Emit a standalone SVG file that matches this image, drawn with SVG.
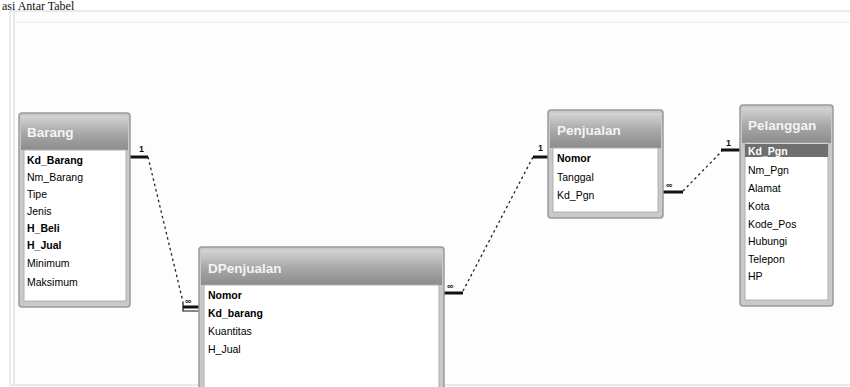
<svg xmlns="http://www.w3.org/2000/svg" width="850" height="387" viewBox="0 0 850 387">
  <defs>
    <linearGradient id="titleGrad" x1="0" y1="0" x2="0" y2="1">
      <stop offset="0" stop-color="#d4d4d4"/>
      <stop offset="0.5" stop-color="#a8a8a8"/>
      <stop offset="1" stop-color="#8c8c8c"/>
    </linearGradient>
    <style>
      .frame { fill: #c9c9c9; stroke: #9a9a9a; stroke-width: 1.5; }
      .title { fill: url(#titleGrad); }
      .body { fill: #ffffff; stroke: #b0b0b0; stroke-width: 1; }
      .ttl { font-family: "Liberation Sans", Arial, sans-serif; font-size: 13.5px; font-weight: bold; fill: #f4f4f4; }
      .fld { font-family: "Liberation Sans", Arial, sans-serif; font-size: 10.5px; fill: #000; }
      .key { font-weight: bold; }
      .sel { fill: #6f6f6f; }
      .selt { fill: #ffffff; }
      .link { fill: none; stroke: #222; stroke-width: 1.3; stroke-dasharray: 2.5 3; }
      .bar { fill: none; stroke: #111; stroke-width: 3; }
      .card { font-family: "Liberation Sans", Arial, sans-serif; font-size: 9px; font-weight: bold; fill: #111; }
    </style>
  </defs>

  <!-- page background and workspace panel -->
  <rect x="0" y="0" width="850" height="387" fill="#ffffff"/>
  <rect x="10" y="11" width="845" height="374" fill="#fdfdfd" stroke="#e4e4e4" stroke-width="1.5"/>
  <line x1="14" y1="22" x2="850" y2="22" stroke="#eeeeee" stroke-width="1.5"/>
  <line x1="14" y1="11" x2="14" y2="385" stroke="#e0e0e0" stroke-width="1.5"/>
  <text x="2" y="10" font-family="Liberation Serif, 'Times New Roman', serif" font-size="12" fill="#111">asi Antar Tabel</text>

  <!-- relationship lines -->
  <g id="connectors">
    <!-- Barang.Kd_Barang 1 : ∞ DPenjualan.Kd_barang -->
    <line class="bar" x1="130" y1="157" x2="148" y2="157"/>
    <text class="card" x="139" y="152">1</text>
    <line class="link" x1="148" y1="157" x2="183" y2="302"/>
    <path d="M183,302 V311 H201" fill="none" stroke="#111" stroke-width="1.2"/>
    <line class="bar" x1="183" y1="307" x2="201" y2="307"/>
    <text class="card" x="185" y="304">∞</text>

    <!-- Penjualan.Nomor 1 : ∞ DPenjualan.Nomor -->
    <line class="bar" x1="443" y1="293" x2="463" y2="293"/>
    <text class="card" x="447" y="289">∞</text>
    <line class="link" x1="463" y1="291" x2="533" y2="157"/>
    <line class="bar" x1="533" y1="157" x2="549" y2="157"/>
    <text class="card" x="538" y="151">1</text>

    <!-- Pelanggan.Kd_Pgn 1 : ∞ Penjualan.Kd_Pgn -->
    <line class="bar" x1="663" y1="192" x2="683" y2="192"/>
    <text class="card" x="666" y="188">∞</text>
    <line class="link" x1="683" y1="191" x2="722" y2="151"/>
    <line class="bar" x1="721" y1="150" x2="741" y2="150"/>
    <text class="card" x="726" y="146">1</text>
  </g>

  <!-- Barang -->
  <g id="barang">
    <rect class="frame" x="19" y="113" width="111" height="194" rx="3"/>
    <rect class="title" x="21" y="116" width="107" height="34"/>
    <text class="ttl" x="27" y="137">Barang</text>
    <rect class="body" x="24" y="150" width="102" height="151"/>
    <text class="fld key" x="27" y="164">Kd_Barang</text>
    <text class="fld" x="27" y="181">Nm_Barang</text>
    <text class="fld" x="27" y="198">Tipe</text>
    <text class="fld" x="27" y="215">Jenis</text>
    <text class="fld key" x="27" y="232">H_Beli</text>
    <text class="fld key" x="27" y="249">H_Jual</text>
    <text class="fld" x="27" y="267">Minimum</text>
    <text class="fld" x="27" y="286">Maksimum</text>
  </g>

  <!-- DPenjualan -->
  <g id="dpenjualan">
    <rect class="frame" x="199" y="247" width="245" height="142" rx="3"/>
    <rect class="title" x="201" y="250" width="241" height="35"/>
    <text class="ttl" x="208" y="273">DPenjualan</text>
    <rect class="body" x="204" y="285" width="235" height="110"/>
    <text class="fld key" x="208" y="299">Nomor</text>
    <text class="fld key" x="208" y="317">Kd_barang</text>
    <text class="fld" x="208" y="335">Kuantitas</text>
    <text class="fld" x="208" y="353">H_Jual</text>
  </g>

  <!-- Penjualan -->
  <g id="penjualan">
    <rect class="frame" x="548" y="110" width="115" height="108" rx="3"/>
    <rect class="title" x="550" y="113" width="111" height="35"/>
    <text class="ttl" x="557" y="135">Penjualan</text>
    <rect class="body" x="553" y="148" width="105" height="64"/>
    <text class="fld key" x="557" y="162">Nomor</text>
    <text class="fld" x="557" y="181">Tanggal</text>
    <text class="fld" x="557" y="199">Kd_Pgn</text>
  </g>

  <!-- Pelanggan -->
  <g id="pelanggan">
    <rect class="frame" x="740" y="105" width="93" height="201" rx="3"/>
    <rect class="title" x="742" y="108" width="89" height="35"/>
    <text class="ttl" x="748" y="130">Pelanggan</text>
    <rect class="body" x="745" y="143" width="83" height="157"/>
    <rect class="sel" x="745" y="144" width="83" height="13"/>
    <text class="fld key selt" x="748" y="155">Kd_Pgn</text>
    <text class="fld" x="748" y="174">Nm_Pgn</text>
    <text class="fld" x="748" y="192">Alamat</text>
    <text class="fld" x="748" y="210">Kota</text>
    <text class="fld" x="748" y="228">Kode_Pos</text>
    <text class="fld" x="748" y="245">Hubungi</text>
    <text class="fld" x="748" y="263">Telepon</text>
    <text class="fld" x="748" y="280">HP</text>
  </g>
</svg>
